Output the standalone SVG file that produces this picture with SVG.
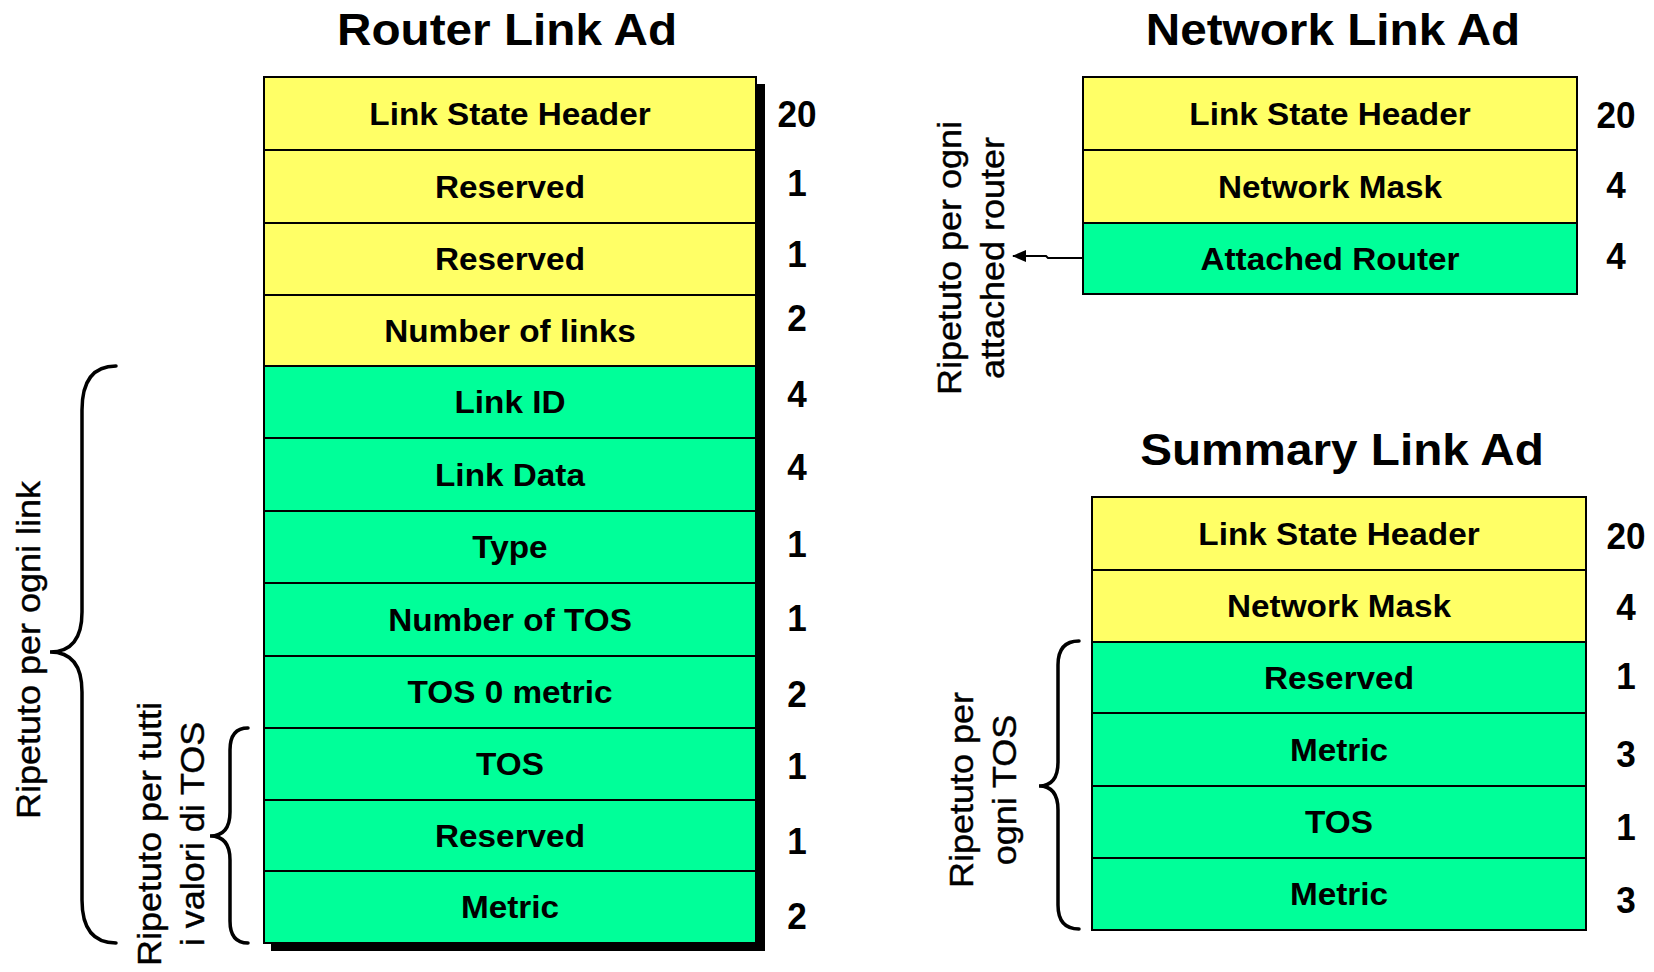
<svg xmlns="http://www.w3.org/2000/svg" width="1654" height="972" viewBox="0 0 1654 972">
<defs>
<style>
.bg{fill:#ffffff}
.y{fill:#FFFF66;stroke:#000;stroke-width:2}
.g{fill:#00FF99;stroke:#000;stroke-width:2}
.sh{fill:#000}
.ttl{font-family:"Liberation Sans",Arial,sans-serif;font-weight:bold;font-size:45px;text-anchor:middle;fill:#000}
.lbl{font-family:"Liberation Sans",Arial,sans-serif;font-weight:bold;font-size:31px;text-anchor:middle;fill:#000}
.num{font-family:"Liberation Sans",Arial,sans-serif;font-weight:bold;font-size:37px;text-anchor:middle;fill:#000}
.rot{font-family:"Liberation Sans",Arial,sans-serif;font-size:33px;text-anchor:middle;fill:#000;stroke:#000;stroke-width:0.4}
.brace{fill:none;stroke:#000;stroke-width:3.5;stroke-linecap:round}
.conn{fill:none;stroke:#000;stroke-width:2}
</style>
<marker id="ah" viewBox="0 0 14 12" refX="13" refY="6" markerWidth="14" markerHeight="12" markerUnits="userSpaceOnUse" orient="auto">
<path d="M0,0 L14,6 L0,12 Z" fill="#000"/>
</marker>
</defs>
<rect class="bg" x="0" y="0" width="1654" height="972"/>

<!-- Router Link Ad -->
<g id="router-title"><text class="ttl" transform="translate(507,45) scale(1.06,1)">Router Link Ad</text></g>
<g id="router-shadow">
<rect class="sh" x="757" y="84" width="8" height="867"/>
<rect class="sh" x="271" y="943" width="494" height="8"/>
</g>
<g id="r-lsh"><rect class="y" x="264" y="77" width="492" height="73"/><text class="lbl" transform="translate(510,124.5) scale(1.075,1)">Link State Header</text><text class="num" transform="translate(797,127) scale(0.95,1)">20</text></g>
<g id="r-res1"><rect class="y" x="264" y="150" width="492" height="73"/><text class="lbl" transform="translate(510,197.5) scale(1.075,1)">Reserved</text><text class="num" transform="translate(797,195.5) scale(0.95,1)">1</text></g>
<g id="r-res2"><rect class="y" x="264" y="223" width="492" height="72"/><text class="lbl" transform="translate(510,270) scale(1.075,1)">Reserved</text><text class="num" transform="translate(797,267) scale(0.95,1)">1</text></g>
<g id="r-nlinks"><rect class="y" x="264" y="295" width="492" height="71"/><text class="lbl" transform="translate(510,341.5) scale(1.075,1)">Number of links</text><text class="num" transform="translate(797,331) scale(0.95,1)">2</text></g>
<g id="r-linkid"><rect class="g" x="264" y="366" width="492" height="72"/><text class="lbl" transform="translate(510,413) scale(1.075,1)">Link ID</text><text class="num" transform="translate(797,406.5) scale(0.95,1)">4</text></g>
<g id="r-linkdata"><rect class="g" x="264" y="438" width="492" height="73"/><text class="lbl" transform="translate(510,485.5) scale(1.075,1)">Link Data</text><text class="num" transform="translate(797,480) scale(0.95,1)">4</text></g>
<g id="r-type"><rect class="g" x="264" y="511" width="492" height="72"/><text class="lbl" transform="translate(510,558) scale(1.075,1)">Type</text><text class="num" transform="translate(797,557) scale(0.95,1)">1</text></g>
<g id="r-ntos"><rect class="g" x="264" y="583" width="492" height="73"/><text class="lbl" transform="translate(510,630.5) scale(1.075,1)">Number of TOS</text><text class="num" transform="translate(797,631) scale(0.95,1)">1</text></g>
<g id="r-tos0"><rect class="g" x="264" y="656" width="492" height="72"/><text class="lbl" transform="translate(510,703) scale(1.075,1)">TOS 0 metric</text><text class="num" transform="translate(797,707) scale(0.95,1)">2</text></g>
<g id="r-tos"><rect class="g" x="264" y="728" width="492" height="72"/><text class="lbl" transform="translate(510,775) scale(1.075,1)">TOS</text><text class="num" transform="translate(797,779) scale(0.95,1)">1</text></g>
<g id="r-res3"><rect class="g" x="264" y="800" width="492" height="71"/><text class="lbl" transform="translate(510,846.5) scale(1.075,1)">Reserved</text><text class="num" transform="translate(797,853.5) scale(0.95,1)">1</text></g>
<g id="r-metric"><rect class="g" x="264" y="871" width="492" height="72"/><text class="lbl" transform="translate(510,918) scale(1.075,1)">Metric</text><text class="num" transform="translate(797,928.5) scale(0.95,1)">2</text></g>

<g id="brace-link">
<path class="brace" d="M116,366 Q82,366 82,410 L82,612 Q82,652 50,652 Q82,652 82,692 L82,900 Q82,943 116,943"/>
<text class="rot" transform="translate(40,650) rotate(-90) scale(1.09,1)">Ripetuto per ogni link</text>
</g>
<g id="brace-tos">
<path class="brace" d="M248,728 Q230,728 230,750 L230,812 Q230,836 210,836 Q230,836 230,860 L230,921 Q230,943 248,943"/>
<text class="rot" transform="translate(161,834) rotate(-90) scale(1.09,1)">Ripetuto per tutti</text>
<text class="rot" transform="translate(204,834) rotate(-90) scale(1.09,1)">i valori di TOS</text>
</g>

<!-- Network Link Ad -->
<g id="network-title"><text class="ttl" transform="translate(1333,45) scale(1.06,1)">Network Link Ad</text></g>
<g id="n-lsh"><rect class="y" x="1083" y="77" width="494" height="73"/><text class="lbl" transform="translate(1330,124.5) scale(1.075,1)">Link State Header</text><text class="num" transform="translate(1616,128) scale(0.95,1)">20</text></g>
<g id="n-mask"><rect class="y" x="1083" y="150" width="494" height="73"/><text class="lbl" transform="translate(1330,197.5) scale(1.075,1)">Network Mask</text><text class="num" transform="translate(1616,198) scale(0.95,1)">4</text></g>
<g id="n-attached"><rect class="g" x="1083" y="223" width="494" height="71"/><text class="lbl" transform="translate(1330,269.5) scale(1.075,1)">Attached Router</text><text class="num" transform="translate(1616,269) scale(0.95,1)">4</text></g>
<g id="n-note">
<text class="rot" transform="translate(961,258) rotate(-90) scale(1.09,1)">Ripetuto per ogni</text>
<text class="rot" transform="translate(1004,258) rotate(-90) scale(1.09,1)">attached router</text>
</g>

<!-- Summary Link Ad -->
<g id="summary-title"><text class="ttl" transform="translate(1342,465) scale(1.06,1)">Summary Link Ad</text></g>
<g id="s-lsh"><rect class="y" x="1092" y="497" width="494" height="73"/><text class="lbl" transform="translate(1339,544.5) scale(1.075,1)">Link State Header</text><text class="num" transform="translate(1626,549) scale(0.95,1)">20</text></g>
<g id="s-mask"><rect class="y" x="1092" y="570" width="494" height="72"/><text class="lbl" transform="translate(1339,617) scale(1.075,1)">Network Mask</text><text class="num" transform="translate(1626,620) scale(0.95,1)">4</text></g>
<g id="s-res"><rect class="g" x="1092" y="642" width="494" height="71"/><text class="lbl" transform="translate(1339,688.5) scale(1.075,1)">Reserved</text><text class="num" transform="translate(1626,689) scale(0.95,1)">1</text></g>
<g id="s-metric1"><rect class="g" x="1092" y="713" width="494" height="73"/><text class="lbl" transform="translate(1339,760.5) scale(1.075,1)">Metric</text><text class="num" transform="translate(1626,767) scale(0.95,1)">3</text></g>
<g id="s-tos"><rect class="g" x="1092" y="786" width="494" height="72"/><text class="lbl" transform="translate(1339,833) scale(1.075,1)">TOS</text><text class="num" transform="translate(1626,840) scale(0.95,1)">1</text></g>
<g id="s-metric2"><rect class="g" x="1092" y="858" width="494" height="72"/><text class="lbl" transform="translate(1339,905) scale(1.075,1)">Metric</text><text class="num" transform="translate(1626,913) scale(0.95,1)">3</text></g>
<g id="brace-summary">
<path class="brace" d="M1079,641 Q1058,641 1058,665 L1058,762 Q1058,786 1039,786 Q1058,786 1058,810 L1058,905 Q1058,929 1079,929"/>
<text class="rot" transform="translate(973,790) rotate(-90) scale(1.09,1)">Ripetuto per</text>
<text class="rot" transform="translate(1016,790) rotate(-90) scale(1.09,1)">ogni TOS</text>
</g>

<g id="connectors">
<path class="conn" d="M1083,258 L1048,258 L1046,256 L1013,256" marker-end="url(#ah)"/>
</g>
</svg>
